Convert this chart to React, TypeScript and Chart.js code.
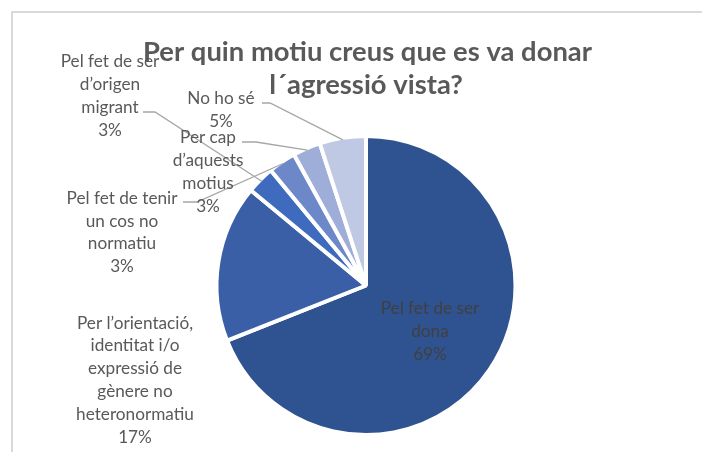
import { useEffect, useRef } from 'react';
import { Chart, registerables } from 'chart.js';

Chart.register(...registerables);

// ---- data ----
const titleLines = ['Per quin motiu creus que es va donar', 'l´agressió vista?'];
const categories = [
  'Pel fet de ser dona',
  'Per l’orientació, identitat i/o expressió de gènere no heteronormatiu',
  'Pel fet de ser d’origen migrant',
  'Pel fet de tenir un cos no normatiu',
  'Per cap d’aquests motius',
  'No ho sé',
];
const categoryLines = [
  ['Pel fet de ser', 'dona'],
  ['Per l’orientació,', 'identitat i/o', 'expressió de', 'gènere no', 'heteronormatiu'],
  ['Pel fet de ser', 'd’origen', 'migrant'],
  ['Pel fet de tenir', 'un cos no', 'normatiu'],
  ['Per cap', 'd’aquests', 'motius'],
  ['No ho sé'],
];
const values = [69, 17, 3, 3, 3, 5];
const colors = ['#2F5290', '#3A5FA6', '#3F6BBF', '#6C88C9', '#9FAED8', '#BFC9E4'];

// ---- label layout (offsets from pie centre, px) ----
const labelOffsets = [
  [64, 46],
  [-231, 94.5],
  [-256, -189.5],
  [-244, -53],
  [-158, -113.5],
  [-145, -175.5],
];
const labelColors = ['#404040', '#595959', '#595959', '#595959', '#595959', '#595959'];
const leaderStarts = [null, null, [[-223, -173.5], [-211, -173.5]], [[-183, -83.5], [-169, -83.5]], [[-124, -143.5], [-110, -143.5]], [[-104, -182.5], [-96, -182.5]]];

const FONT = 'Lato, "Noto Sans", sans-serif';

const overlay = {
  id: 'overlay',
  beforeDraw(chart: any) {
    const ctx = chart.ctx;
    ctx.save();
    ctx.strokeStyle = '#D9D9D9';
    ctx.lineWidth = 2;
    ctx.beginPath();
    ctx.moveTo(4, chart.height + 10);
    ctx.lineTo(4, 4);
    ctx.lineTo(chart.width + 10, 4);
    ctx.stroke();
    ctx.restore();
  },
  afterDatasetsDraw(chart: any) {
    const ctx = chart.ctx;
    const meta = chart.getDatasetMeta(0);
    const first = meta.data[0].getProps(['x', 'y']);
    const cx = first.x;
    const cy = first.y;
    ctx.save();
    // leader lines
    ctx.strokeStyle = '#A6A6A6';
    ctx.lineWidth = 1.3;
    meta.data.forEach((arc: any, i: number) => {
      const ls = leaderStarts[i];
      if (!ls) return;
      const p = arc.getProps(['startAngle', 'endAngle', 'outerRadius']);
      const mid = (p.startAngle + p.endAngle) / 2;
      const r = p.outerRadius - 2;
      ctx.beginPath();
      ctx.moveTo(cx + ls[0][0], cy + ls[0][1]);
      ctx.lineTo(cx + ls[1][0], cy + ls[1][1]);
      ctx.lineTo(cx + Math.cos(mid) * r, cy + Math.sin(mid) * r);
      ctx.stroke();
    });
    // labels
    ctx.font = `17.2px ${FONT}`;
    ctx.textAlign = 'center';
    ctx.textBaseline = 'middle';
    const lh = 22.8;
    categoryLines.forEach((lines, i) => {
      const all = [...lines, `${values[i]}%`];
      const [dx, dy] = labelOffsets[i];
      const x = cx + dx;
      const y0 = cy + dy - ((all.length - 1) * lh) / 2;
      ctx.fillStyle = labelColors[i];
      all.forEach((t, k) => ctx.fillText(t, x, y0 + k * lh));
    });
    // title
    ctx.fillStyle = '#595959';
    ctx.font = `bold 27.4px ${FONT}`;
    ctx.fillText(titleLines[0], cx + 1.5, 44);
    ctx.fillText(titleLines[1], cx, 77);
    ctx.restore();
  },
};

export default function App() {
  const ref = useRef<HTMLCanvasElement>(null);
  useEffect(() => {
    if (!ref.current) return;
    const chart = new Chart(ref.current, {
      type: 'pie',
      data: {
        labels: categories,
        datasets: [
          {
            data: values,
            backgroundColor: colors,
            borderColor: '#FFFFFF',
            borderWidth: 4,
          },
        ],
      },
      options: {
        responsive: false,
        animation: false,
        layout: { padding: { left: 206.5, top: 126, right: 184.5, bottom: 15 } },
        plugins: {
          legend: { display: false },
          tooltip: { enabled: false },
          title: { display: false },
        },
      },
      plugins: [overlay],
    });
    return () => chart.destroy();
  }, []);
  return <canvas ref={ref} width={694} height={444} style={{ display: 'block' }} />;
}
